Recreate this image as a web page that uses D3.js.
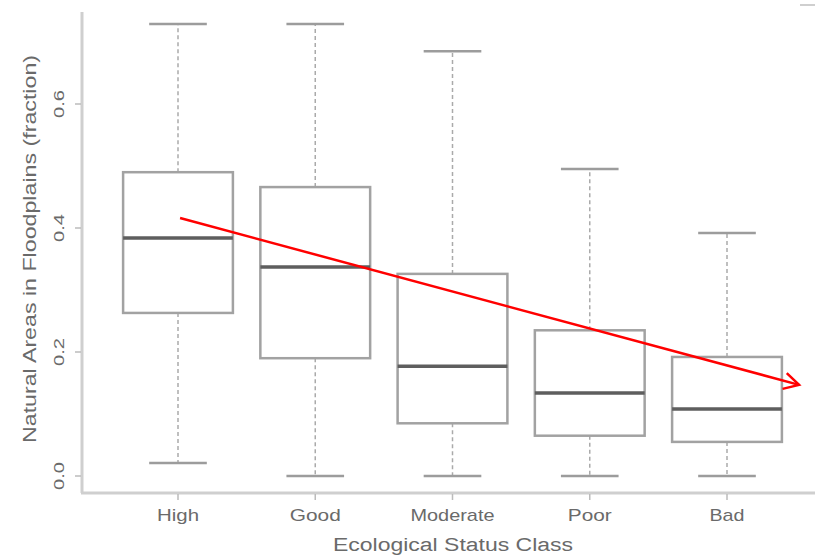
<!DOCTYPE html>
<html><head><meta charset="utf-8">
<script src="https://cdn.jsdelivr.net/npm/d3@7"></script>
<style>body{margin:0;background:#fff}svg{display:block}text{font-family:"Liberation Sans",Arial,sans-serif;fill:#6a6a6a}</style>
</head><body>
<script>
const categories = ["High","Good","Moderate","Poor","Bad"];
const whiskerLow  = [0.021, 0.0, 0.0, 0.0, 0.0];
const q1          = [0.263, 0.190, 0.085, 0.065, 0.055];
const medians     = [0.384, 0.337, 0.177, 0.134, 0.108];
const q3          = [0.490, 0.466, 0.326, 0.235, 0.192];
const whiskerHigh = [0.729, 0.729, 0.685, 0.495, 0.392];
const yTicks = [0.0, 0.2, 0.4, 0.6];
const yTickLabels = ["0.0","0.2","0.4","0.6"];
const trendArrow = [{i:0.015, v:0.416},{i:4.525, v:0.147}];
const xTitle = "Ecological Status Class";
const yTitle = "Natural Areas in Floodplains (fraction)";

const W=815,H=556;
const svg=d3.select("body").append("svg").attr("width",W).attr("height",H);
const x=d3.scalePoint().domain(categories).range([178,727]);
const xi=d3.scaleLinear().domain([0,4]).range([178,727]);
const y=d3.scaleLinear().domain([0,0.6]).range([476,104]);
const bw=x.step()*0.8, cw=x.step()*0.42;

// axes lines
const axisCol="#cfcfcf";
svg.append("line").attr("x1",82).attr("x2",82).attr("y1",12).attr("y2",493).attr("stroke",axisCol).attr("stroke-width",3);
svg.append("line").attr("x1",81).attr("x2",815).attr("y1",493).attr("y2",493).attr("stroke",axisCol).attr("stroke-width",3);
svg.append("line").attr("x1",800).attr("x2",815).attr("y1",5).attr("y2",5).attr("stroke",axisCol).attr("stroke-width",2);

// y axis ticks
const yAxis=svg.append("g");
yTicks.forEach((t,k)=>{
  yAxis.append("line").attr("x1",75).attr("x2",81).attr("y1",y(t)).attr("y2",y(t)).attr("stroke","#bbb").attr("stroke-width",1.5);
  yAxis.append("text").attr("transform",`translate(64,${y(t)}) rotate(-90)`).attr("text-anchor","middle")
    .attr("font-size",15).attr("textLength",28).attr("lengthAdjust","spacingAndGlyphs").text(yTickLabels[k]);
});
// x axis ticks
const xLabW={High:42,Good:51,Moderate:84,Poor:44,Bad:35};
categories.forEach(c=>{
  svg.append("line").attr("x1",x(c)).attr("x2",x(c)).attr("y1",494).attr("y2",500).attr("stroke","#bbb").attr("stroke-width",1.5);
  svg.append("text").attr("x",x(c)).attr("y",521).attr("text-anchor","middle").attr("font-size",17)
    .attr("textLength",xLabW[c]).attr("lengthAdjust","spacingAndGlyphs").text(c);
});
svg.append("text").attr("x",453).attr("y",551).attr("text-anchor","middle").attr("font-size",18)
  .attr("textLength",240).attr("lengthAdjust","spacingAndGlyphs").attr("fill","#5a5a5a").text(xTitle);
svg.append("text").attr("transform","translate(36,249) rotate(-90)").attr("text-anchor","middle").attr("font-size",18)
  .attr("textLength",388).attr("lengthAdjust","spacingAndGlyphs").attr("fill","#4a4a4a").text(yTitle);

// boxes
const g=svg.append("g");
categories.forEach((c,k)=>{
  const cx=x(c);
  // whiskers
  g.append("line").attr("x1",cx).attr("x2",cx).attr("y1",y(q3[k])).attr("y2",y(whiskerHigh[k]))
    .attr("stroke","#aaa").attr("stroke-width",1.5).attr("stroke-dasharray","4,3");
  g.append("line").attr("x1",cx).attr("x2",cx).attr("y1",y(q1[k])).attr("y2",y(whiskerLow[k]))
    .attr("stroke","#aaa").attr("stroke-width",1.5).attr("stroke-dasharray","4,3");
  // caps
  [whiskerHigh[k],whiskerLow[k]].forEach(v=>{
    g.append("line").attr("x1",cx-cw/2).attr("x2",cx+cw/2).attr("y1",y(v)).attr("y2",y(v))
      .attr("stroke","#9c9c9c").attr("stroke-width",2.5);
  });
  // box
  g.append("rect").attr("x",cx-bw/2).attr("y",y(q3[k])).attr("width",bw).attr("height",y(q1[k])-y(q3[k]))
    .attr("fill","#fff").attr("stroke","#a2a2a2").attr("stroke-width",2.5);
  g.append("line").attr("x1",cx-bw/2).attr("x2",cx+bw/2).attr("y1",y(medians[k])).attr("y2",y(medians[k]))
    .attr("stroke","#5e5e5e").attr("stroke-width",3.5);
});

// red trend arrow
const p0=[xi(trendArrow[0].i),y(trendArrow[0].v)], p1=[xi(trendArrow[1].i),y(trendArrow[1].v)];
svg.append("line").attr("x1",p0[0]).attr("y1",p0[1]).attr("x2",p1[0]).attr("y2",p1[1])
  .attr("stroke","#f00").attr("stroke-width",2.5);
const ang=Math.atan2(p1[1]-p0[1],p1[0]-p0[0]), L=17, a=0.5;
const head=[[p1[0]-L*Math.cos(ang-a),p1[1]-L*Math.sin(ang-a)],p1,[p1[0]-L*Math.cos(ang+a),p1[1]-L*Math.sin(ang+a)]];
svg.append("path").attr("d",d3.line()(head)).attr("fill","none").attr("stroke","#f00").attr("stroke-width",2.5);
</script>
</body></html>
